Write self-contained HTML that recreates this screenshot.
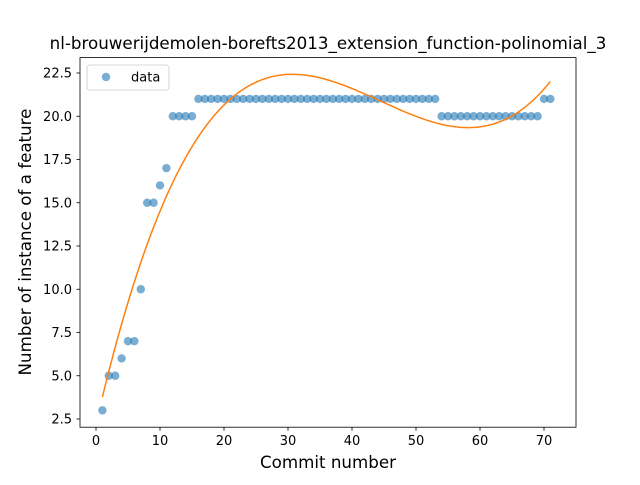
<!DOCTYPE html>
<html><head><meta charset="utf-8"><style>
body{margin:0;background:#fff;}
svg text{font-family:"DejaVu Sans","Liberation Sans",sans-serif;}
</style></head><body>
<svg id="chart" width="640" height="480" viewBox="0 0 640 480">
<rect x="0" y="0" width="640" height="480" fill="#fff"/>
<text x="328" y="49" text-anchor="middle" font-size="16.7">nl-brouwerijdemolen-borefts2013_extension_function-polinomial_3</text>
<g id="ticks"></g>
<g id="marks"></g>
<rect x="80" y="57.6" width="496" height="369.6" fill="none" stroke="#000" stroke-width="0.8"/>
<text x="328" y="468" text-anchor="middle" font-size="16.7">Commit number</text>
<text x="31" y="242" text-anchor="middle" font-size="16.7" transform="rotate(-90 31 242)">Number of instance of a feature</text>
<g>
<rect x="87" y="65" width="82" height="25" rx="3" fill="#fff" stroke="#ccc" stroke-width="0.8"/>
<circle cx="106" cy="77" r="4.2" fill="#1f77b4" fill-opacity="0.6"/>
<text x="131" y="81.5" font-size="13">data</text>
</g>
</svg>
<script>
const xs = [];
for (let i = 1; i <= 71; i++) xs.push(i);
const ys = [3,5,5,6,7,7,10,15,15,16,17,20,20,20,20,
21,21,21,21,21,21,21,21,21,21,21,21,21,21,21,21,21,21,21,21,21,21,21,21,21,21,21,21,21,21,21,21,21,21,21,21,21,21,
20,20,20,20,20,20,20,20,20,20,20,20,20,20,20,20,21,21];
const xTicks = [0,10,20,30,40,50,60,70];
const yTicks = [2.5,5.0,7.5,10.0,12.5,15.0,17.5,20.0,22.5];
const X = v => 96 + v*6.4;
const Y = v => 419 - (v-2.5)*17.3;
const NS = "http://www.w3.org/2000/svg";
const tk = document.getElementById('ticks'), mk = document.getElementById('marks');
function mkEl(t, a, p){const e=document.createElementNS(NS,t);for(const k in a)e.setAttribute(k,a[k]);p.appendChild(e);return e;}
xTicks.forEach(v=>{
  const l=mkEl('line',{x1:X(v),x2:X(v),y1:427.2,y2:430.7,stroke:'#000','stroke-width':0.8},tk);
  
  
  const t=mkEl('text',{x:X(v),y:445,'text-anchor':'middle','font-size':13},tk);
  t.textContent=v;
  
  
});
yTicks.forEach(v=>{
  const l=mkEl('line',{x1:76.5,x2:80,y1:Y(v),y2:Y(v),stroke:'#000','stroke-width':0.8},tk);
  
  
  const t=mkEl('text',{x:72,y:Y(v)+4.7,'text-anchor':'end','font-size':13},tk);
  t.textContent=v.toFixed(1);
  
  
});
xs.forEach((x,i)=>{
  const c=mkEl('circle',{cx:X(x),cy:Y(ys[i]),r:4.2,fill:'#1f77b4','fill-opacity':0.6},mk);
  
  
});
const n=4, A=[], b=[];
for(let r=0;r<n;r++){A.push(new Array(n).fill(0));b.push(0);}
xs.forEach((x,i)=>{for(let r=0;r<n;r++){for(let c=0;c<n;c++)A[r][c]+=Math.pow(x,r+c);b[r]+=ys[i]*Math.pow(x,r);}});
for(let i=0;i<n;i++){let p=i;for(let j=i+1;j<n;j++)if(Math.abs(A[j][i])>Math.abs(A[p][i]))p=j;
[A[i],A[p]]=[A[p],A[i]];[b[i],b[p]]=[b[p],b[i]];
for(let j=i+1;j<n;j++){const f=A[j][i]/A[i][i];for(let k=i;k<n;k++)A[j][k]-=f*A[i][k];b[j]-=f*b[i];}}
const co=new Array(n).fill(0);
for(let i=n-1;i>=0;i--){let s=b[i];for(let k=i+1;k<n;k++)s-=A[i][k]*co[k];co[i]=s/A[i][i];}
const f=x=>co[0]+co[1]*x+co[2]*x*x+co[3]*x*x*x;
let d='';
const x0=xs[0], x1=xs[xs.length-1];
for(let i=0;i<=200;i++){const x=x0+(x1-x0)*i/200;d+=(i?'L':'M')+X(x).toFixed(2)+' '+Y(f(x)).toFixed(2);}
const fitPath=mkEl('path',{d:d,fill:'none',stroke:'#ff7f0e','stroke-width':1.5},mk);


</script>
</body></html>
